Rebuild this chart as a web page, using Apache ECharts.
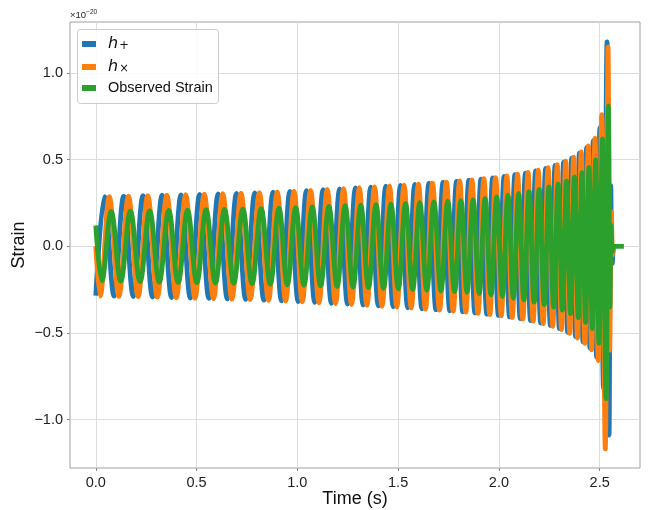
<!DOCTYPE html>
<html><head><meta charset="utf-8">
<script src="https://cdn.jsdelivr.net/npm/echarts@6/dist/echarts.min.js"></script>
<style>html,body{margin:0;padding:0;background:#fff}#c{width:649px;height:510px}</style>
</head><body><div id="c"></div>
<script>
// Tick labels
const xTicks = [0, 0.5, 1, 1.5, 2, 2.5];
const yTicks = [-1, -0.5, 0, 0.5, 1];
const seriesNames = ['h+', 'hx', 'Observed Strain'];

// h+ (extrema), time in s, strain in units of 1e-20
const hpT = [0.0000,0.0432,0.0907,0.1381,0.1860,0.2340,0.2814,0.3289,0.3758,0.4228,
0.4690,0.5152,0.5611,0.6071,0.6525,0.6980,0.7434,0.7889,0.8341,0.8793,
0.9210,0.9627,1.0040,1.0452,1.0864,1.1277,1.1687,1.2096,1.2489,1.2881,
1.3261,1.3641,1.4014,1.4387,1.4752,1.5117,1.5472,1.5827,1.6178,1.6528,
1.6878,1.7228,1.7563,1.7899,1.8204,1.8510,1.8810,1.9111,1.9401,1.9692,
1.9975,2.0258,2.0527,2.0795,2.1056,2.1316,2.1570,2.1823,2.2072,2.2320,
2.2554,2.2787,2.3000,2.3214,2.3413,2.3612,2.3803,2.3994,2.4173,2.4352,
2.4518,2.4684,2.4849,2.5012,2.5189,2.5365,2.5464,2.5549,2.5624,2.5698,2.5750];
const hpV = [-0.285,0.286,-0.288,0.289,-0.290,0.292,-0.293,0.295,-0.296,0.297,
-0.299,0.300,-0.301,0.303,-0.304,0.306,-0.307,0.309,-0.311,0.313,
-0.315,0.317,-0.319,0.322,-0.324,0.327,-0.329,0.332,-0.334,0.337,
-0.339,0.342,-0.344,0.347,-0.349,0.352,-0.355,0.358,-0.361,0.363,
-0.366,0.369,-0.372,0.375,-0.378,0.382,-0.385,0.388,-0.392,0.395,
-0.399,0.403,-0.408,0.413,-0.418,0.423,-0.429,0.435,-0.443,0.450,
-0.457,0.467,-0.475,0.486,-0.497,0.509,-0.521,0.538,-0.552,0.570,
-0.588,0.610,-0.640,0.685,-0.820,1.180,-1.090,0.350,-0.100,0.000,0.000];

// hx
const hxT = [0.0000,
0.0216,0.0670,0.1144,0.1621,0.2100,0.2577,0.3052,0.3524,0.3993,0.4459,
0.4921,0.5382,0.5841,0.6298,0.6753,0.7207,0.7662,0.8115,0.8567,0.9002,
0.9419,0.9834,1.0246,1.0658,1.1071,1.1482,1.1892,1.2293,1.2685,1.3071,
1.3451,1.3828,1.4201,1.4570,1.4935,1.5295,1.5650,1.6003,1.6353,1.6703,
1.7053,1.7396,1.7731,1.8052,1.8357,1.8660,1.8961,1.9256,1.9547,1.9834,
2.0117,2.0393,2.0661,2.0926,2.1186,2.1443,2.1697,2.1948,2.2196,2.2437,
2.2671,2.2894,2.3107,2.3314,2.3513,2.3708,2.3899,2.4084,2.4263,2.4435,
2.4601,2.4767,2.4931,2.5101,2.5277,2.5415,
2.5500,2.5580,2.5650,2.5720];
const hxV = [0.000,
-0.287,0.287,-0.289,0.290,-0.291,0.293,-0.294,0.296,-0.297,0.298,
-0.300,0.301,-0.302,0.304,-0.305,0.307,-0.308,0.310,-0.312,0.314,
-0.316,0.318,-0.321,0.323,-0.326,0.328,-0.331,0.333,-0.336,0.338,
-0.341,0.343,-0.346,0.348,-0.351,0.353,-0.357,0.359,-0.362,0.365,
-0.368,0.371,-0.374,0.377,-0.380,0.384,-0.387,0.390,-0.394,0.397,
-0.401,0.406,-0.411,0.416,-0.421,0.426,-0.432,0.439,-0.447,0.454,
-0.462,0.471,-0.481,0.492,-0.503,0.515,-0.530,0.545,-0.561,0.579,
-0.598,0.625,-0.660,0.760,-1.170,1.150,
-0.600,0.200,-0.050,0.000];

// Observed strain
const obsT = [0.0000,
0.0302,0.0765,0.1239,0.1716,0.2196,0.2672,0.3147,0.3617,0.4087,0.4551,
0.5013,0.5473,0.5933,0.6389,0.6844,0.7298,0.7753,0.8205,0.8657,0.9085,
0.9502,0.9916,1.0328,1.0740,1.1153,1.1564,1.1973,1.2371,1.2763,1.3147,
1.3527,1.3902,1.4275,1.4643,1.5008,1.5366,1.5721,1.6073,1.6423,1.6773,
1.7123,1.7463,1.7798,1.8113,1.8418,1.8720,1.9021,1.9314,1.9605,1.9890,
2.0173,2.0446,2.0715,2.0978,2.1238,2.1494,2.1747,2.1997,2.2246,2.2484,
2.2717,2.2936,2.3150,2.3353,2.3552,2.3746,2.3937,2.4119,2.4298,2.4468,
2.4634,2.4800,2.4963,2.5136,2.5312,2.5434,
2.5510,2.5570,2.5630,2.5700,2.6200];
const obsV = [0.120,
-0.200,0.201,-0.202,0.203,-0.204,0.205,-0.206,0.207,-0.208,0.209,
-0.210,0.211,-0.212,0.213,-0.214,0.215,-0.216,0.218,-0.219,0.220,
-0.222,0.223,-0.225,0.227,-0.229,0.230,-0.232,0.234,-0.236,0.237,
-0.239,0.241,-0.243,0.244,-0.246,0.248,-0.250,0.252,-0.254,0.256,
-0.258,0.260,-0.262,0.264,-0.266,0.269,-0.273,0.277,-0.281,0.285,
-0.290,0.295,-0.300,0.305,-0.311,0.316,-0.322,0.328,-0.336,0.343,
-0.351,0.359,-0.368,0.378,-0.389,0.400,-0.412,0.425,-0.439,0.455,
-0.475,0.500,-0.560,0.620,-0.880,0.810,
-0.350,0.120,-0.030,0.000,0.000];

const FONT = "'Liberation Sans', Arial, Helvetica, sans-serif";
const fmt = v => (v < 0 ? '\u2212' : '') + Math.abs(v).toFixed(1);
const pairs = (T, V) => T.map((t, i) => [t, V[i]]);
const colors = ['#1f77b4', '#ff7f0e', '#2ca02c'];
const lineW = 4.8;
const SM = 0.38;

const chart = echarts.init(document.getElementById('c'), null, {renderer: 'canvas'});
const axisCommon = {
  type: 'value',
  nameLocation: 'middle',
  nameMoveOverlap: false,
  nameTextStyle: {fontSize: 18, fontFamily: FONT, color: '#111'},
  axisLine: {show: false, onZero: false},
  splitLine: {show: true, lineStyle: {color: '#dddddd', width: 1}}
};
chart.setOption({
  animation: false,
  backgroundColor: '#ffffff',
  grid: {left: 70, right: 9, top: 22, bottom: 42, outerBoundsMode: 'none', containLabel: false,
         show: true, borderColor: '#a0a0a0', borderWidth: 1, backgroundColor: 'transparent'},
  xAxis: Object.assign({}, axisCommon, {
    min: -0.128, max: 2.70,
    name: 'Time (s)', nameGap: 22,
    axisTick: {show: true, customValues: xTicks, length: 3, lineStyle: {color: '#888'}},
    axisLabel: {customValues: xTicks, formatter: fmt, fontSize: 14.5, fontFamily: FONT, color: '#222', margin: 7}
  }),
  yAxis: Object.assign({}, axisCommon, {
    min: -1.28, max: 1.295,
    name: 'Strain', nameGap: 42,
    axisTick: {show: true, customValues: yTicks, length: 3, lineStyle: {color: '#888'}},
    axisLabel: {customValues: yTicks, formatter: fmt, fontSize: 14.5, fontFamily: FONT, color: '#222', margin: 7}
  }),
  legend: {
    orient: 'vertical', left: 77, top: 29, z: 20,
    itemWidth: 14, itemHeight: 6, itemGap: 5, icon: 'rect',
    data: ['hp', 'hx', 'obs'],
    formatter: function (n) {
      if (n === 'hp') return '{it|h}{sub|+}';
      if (n === 'hx') return '{it|h}{sub|\u00d7}';
      return '{ob|' + seriesNames[2] + '}';
    },
    textStyle: {
      fontFamily: FONT, fontSize: 14.5, color: '#111', lineHeight: 16,
      rich: {
        it: {fontFamily: 'DejaVu Sans', fontStyle: 'italic', fontSize: 16, color: '#111', padding: [0, 0, 0, 7], lineHeight: 16},
        sub: {fontFamily: 'DejaVu Sans', fontSize: 11.5, color: '#111', verticalAlign: 'bottom', padding: [6, 0, 0, 1], lineHeight: 16},
        ob: {fontFamily: FONT, fontSize: 14.5, color: '#111', padding: [0, 0, 0, 7], lineHeight: 16}
      }
    }
  },
  graphic: [
    {type: 'rect', left: 77, top: 29, z: 15, shape: {width: 141, height: 74, r: 3},
     style: {fill: 'rgba(255,255,255,0.85)', stroke: '#cccccc', lineWidth: 1}},
    {type: 'text', left: 70, top: 9, z: 15,
     style: {text: '{a|\u00d710}{b|\u221220}', rich: {
       a: {fontFamily: FONT, fontSize: 9.5, fill: '#222', verticalAlign: 'bottom', lineHeight: 11},
       b: {fontFamily: FONT, fontSize: 6.5, fill: '#222', verticalAlign: 'top', lineHeight: 11}
     }}}
  ],
  series: [
    {name: 'hp', type: 'line', data: pairs(hpT, hpV), showSymbol: false, smooth: SM,
     lineStyle: {color: colors[0], width: lineW}, itemStyle: {color: colors[0]}, z: 2},
    {name: 'hx', type: 'line', data: pairs(hxT, hxV), showSymbol: false, smooth: SM,
     lineStyle: {color: colors[1], width: lineW}, itemStyle: {color: colors[1]}, z: 3},
    {name: 'obs', type: 'line', data: pairs(obsT, obsV), showSymbol: false, smooth: SM,
     lineStyle: {color: colors[2], width: lineW}, itemStyle: {color: colors[2]}, z: 4}
  ]
});
</script>
</body></html>
